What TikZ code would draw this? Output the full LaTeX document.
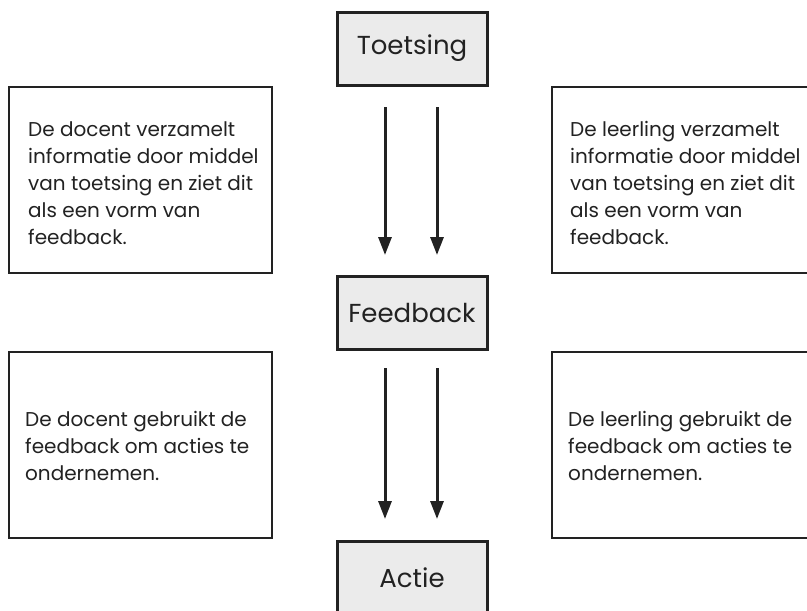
\documentclass[tikz,border=0pt]{standalone}
\usepackage{fontspec}
\setmainfont{Poppins}[Ligatures=NoCommon]
\usetikzlibrary{arrows.meta}
\definecolor{boxgray}{HTML}{EBEBEB}
\definecolor{ink}{HTML}{222222}
\begin{document}
\begin{tikzpicture}[x=1pt,y=-1pt,
  stage/.style={draw=ink, line width=3pt, fill=boxgray, minimum width=150pt,
    minimum height=73pt, inner sep=0pt, text=ink, font=\fontsize{26}{30}\selectfont},
  infobox/.style={draw=ink, line width=2.5pt, minimum width=263pt,
    minimum height=186pt, inner sep=0pt},
  infotext/.style={anchor=north west, align=left, inner sep=0pt, text=ink,
    font=\fontsize{20}{27}\selectfont},
  flow/.style={draw=ink, line width=3pt, -{Triangle[width=13pt,length=18pt]}}
]
\useasboundingbox (0,0) rectangle (807,611);
\clip (0,0) rectangle (807,611);

% central chain
\node[stage] (toets) at (412,48.5) {Toetsing};
\node[stage] (feed) at (412,312.5) {Feedback};
\node[stage] (actie) at (412,577.5) {Actie};

% side boxes
\node[infobox] (docA) at (140.5,180) {};
\node[infobox] (leerA) at (683.5,180) {};
\node[infobox] (docB) at (140.5,445) {};
\node[infobox] (leerB) at (683.5,445) {};

\node[infotext] (docAtxt) at (28,121) {De docent verzamelt\\informatie door middel\\van toetsing en ziet dit\\als een vorm van\\feedback.};
\node[infotext] (leerAtxt) at (570,121) {De leerling verzamelt\\informatie door middel\\van toetsing en ziet dit\\als een vorm van\\feedback.};
\node[infotext] (docBtxt) at (25,411) {De docent gebruikt de\\feedback om acties te\\ondernemen.};
\node[infotext] (leerBtxt) at (568,411) {De leerling gebruikt de\\feedback om acties te\\ondernemen.};

% arrows
\draw[flow] ([xshift=-27pt,yshift=-20.5pt]toets.south) -- ([xshift=-27pt,yshift=19.5pt]feed.north);
\draw[flow] ([xshift=25pt,yshift=-20.5pt]toets.south) -- ([xshift=25pt,yshift=19.5pt]feed.north);
\draw[flow] ([xshift=-27pt,yshift=-17.5pt]feed.south) -- ([xshift=-27pt,yshift=20.5pt]actie.north);
\draw[flow] ([xshift=25pt,yshift=-17.5pt]feed.south) -- ([xshift=25pt,yshift=20.5pt]actie.north);
\end{tikzpicture}
\end{document}
